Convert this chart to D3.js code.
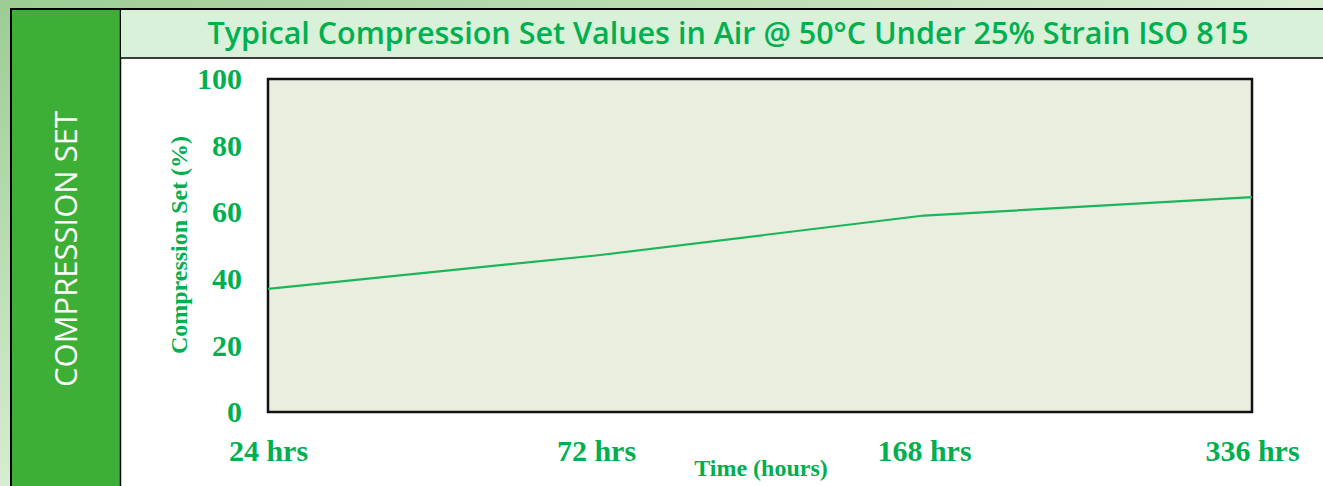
<!DOCTYPE html>
<html>
<head>
<meta charset="utf-8">
<script src="https://cdn.jsdelivr.net/npm/d3@7"></script>
<style>
  html, body { margin: 0; padding: 0; background: #fff; }
  svg { display: block; }
</style>
</head>
<body>
<svg id="chart" width="1323" height="486"></svg>
<script>
// chart data
const hours = ["24 hrs", "72 hrs", "168 hrs", "336 hrs"];
const compressionSet = [37, 47, 59, 64.5];
const yTicks = [0, 20, 40, 60, 80, 100];

const green = "#00b050";
const svg = d3.select("#chart");

// background strip round the panel (stands in for the photo behind it)
const bg = svg.append("defs").append("linearGradient")
    .attr("id", "bg").attr("x1", 0).attr("x2", 1).attr("y1", 0).attr("y2", 1);
bg.append("stop").attr("offset", "0%").attr("stop-color", "#9ccc94");
bg.append("stop").attr("offset", "50%").attr("stop-color", "#d7ecd0");
bg.append("stop").attr("offset", "100%").attr("stop-color", "#3f7a45");
svg.append("rect").attr("width", 1323).attr("height", 486).attr("fill", "url(#bg)");

// outer panel
svg.append("rect").attr("x", 11).attr("y", 9).attr("width", 1320).attr("height", 490)
    .attr("fill", "#fff").attr("stroke", "#000").attr("stroke-width", 2);

// left green band
svg.append("rect").attr("x", 12).attr("y", 10).attr("width", 108).attr("height", 480)
    .attr("fill", "#3daf37");
svg.append("line").attr("x1", 120.5).attr("x2", 120.5).attr("y1", 9).attr("y2", 486)
    .attr("stroke", "#000").attr("stroke-width", 1.5);
svg.append("text")
    .attr("transform", "translate(77,249) rotate(-90)")
    .attr("text-anchor", "middle")
    .attr("font-family", "'Open Sans', sans-serif")
    .attr("font-size", 31)
    .attr("fill", "#fff")
    .text("COMPRESSION SET");

// title band
svg.append("rect").attr("x", 121).attr("y", 10).attr("width", 1202).attr("height", 48)
    .attr("fill", "#d8f1d8");
svg.append("line").attr("x1", 121).attr("x2", 1323).attr("y1", 58).attr("y2", 58)
    .attr("stroke", "#000").attr("stroke-width", 1.5);
svg.append("text")
    .attr("x", 728).attr("y", 44)
    .attr("text-anchor", "middle")
    .attr("font-family", "'Open Sans', sans-serif")
    .attr("font-weight", 600)
    .attr("font-size", 30.5)
    .attr("fill", green)
    .text("Typical Compression Set Values in Air @ 50°C Under 25% Strain ISO 815");

// plot area
const plot = { left: 268, right: 1252, top: 79, bottom: 412 };

const x = d3.scalePoint().domain(hours).range([plot.left, plot.right]);
const y = d3.scaleLinear().domain([0, 100]).range([plot.bottom, plot.top]);

svg.append("rect")
    .attr("x", plot.left).attr("y", plot.top)
    .attr("width", plot.right - plot.left).attr("height", plot.bottom - plot.top)
    .attr("fill", "#eaeedf").attr("stroke", "#111").attr("stroke-width", 2.5);

const serif = "'Liberation Serif', 'Times New Roman', serif";

// y axis
const yAxis = svg.append("g")
    .attr("transform", `translate(${plot.left - 26},0)`)
    .call(d3.axisLeft(y).tickValues(yTicks).tickSize(0).tickPadding(0));
yAxis.select(".domain").remove();
yAxis.selectAll("text")
    .attr("font-family", serif).attr("font-weight", "bold").attr("font-size", 30)
    .attr("fill", green).attr("dy", "0.32em");

// x axis
const xAxis = svg.append("g")
    .attr("transform", `translate(0,${plot.bottom})`)
    .call(d3.axisBottom(x).tickSize(0).tickPadding(0));
xAxis.select(".domain").remove();
xAxis.selectAll("text")
    .attr("font-family", serif).attr("font-weight", "bold").attr("font-size", 30)
    .attr("fill", green).attr("y", 49).attr("dy", 0);

// axis titles
svg.append("text")
    .attr("transform", "translate(187,245) rotate(-90)")
    .attr("text-anchor", "middle")
    .attr("font-family", serif).attr("font-weight", "bold").attr("font-size", 24)
    .attr("fill", green)
    .text("Compression Set (%)");
svg.append("text")
    .attr("x", 761).attr("y", 476)
    .attr("text-anchor", "middle")
    .attr("font-family", serif).attr("font-weight", "bold").attr("font-size", 24)
    .attr("fill", green)
    .text("Time (hours)");

// series line
const line = d3.line()
    .x((d, i) => x(hours[i]))
    .y(d => y(d));
svg.append("path")
    .datum(compressionSet)
    .attr("d", line)
    .attr("fill", "none")
    .attr("stroke", "#1bb55a")
    .attr("stroke-width", 2.2);
</script>
</body>
</html>
